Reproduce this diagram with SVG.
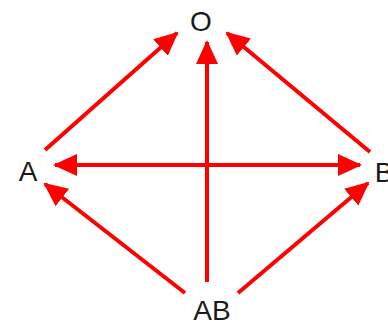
<svg xmlns="http://www.w3.org/2000/svg" width="388" height="326" viewBox="0 0 388 326">
<style>
.lbl{font-family:"Liberation Sans",Arial,sans-serif;font-size:28px;fill:#1a1a1a;text-anchor:middle}
.edge{stroke:#ff0000;stroke-width:4;fill:none}
</style>
<defs>
<marker id="ah" markerUnits="userSpaceOnUse" markerWidth="24" markerHeight="22" refX="22" refY="11" orient="auto-start-reverse" viewBox="0 0 24 22">
<path d="M0,0 L24,11 L0,22 Z" fill="#ff0000"/>
</marker>
</defs>
<rect width="388" height="326" fill="#ffffff"/>
<g id="connectors">
<line class="edge" x1="45" y1="150" x2="177" y2="33" marker-end="url(#ah)"/>
<line class="edge" x1="370" y1="152" x2="227" y2="33" marker-end="url(#ah)"/>
<line class="edge" x1="207" y1="282" x2="207" y2="42" marker-end="url(#ah)"/>
<line class="edge" x1="55" y1="165" x2="360" y2="165" marker-start="url(#ah)" marker-end="url(#ah)"/>
<line class="edge" x1="185" y1="293" x2="45" y2="184" marker-end="url(#ah)"/>
<line class="edge" x1="238" y1="293" x2="368" y2="183" marker-end="url(#ah)"/>
</g>
<g id="node-O"><text class="lbl" x="201" y="31">O</text></g>
<g id="node-A"><text class="lbl" x="28" y="181">A</text></g>
<g id="node-B"><text class="lbl" x="384" y="182">B</text></g>
<g id="node-AB"><text class="lbl" x="212" y="320">AB</text></g>
</svg>
